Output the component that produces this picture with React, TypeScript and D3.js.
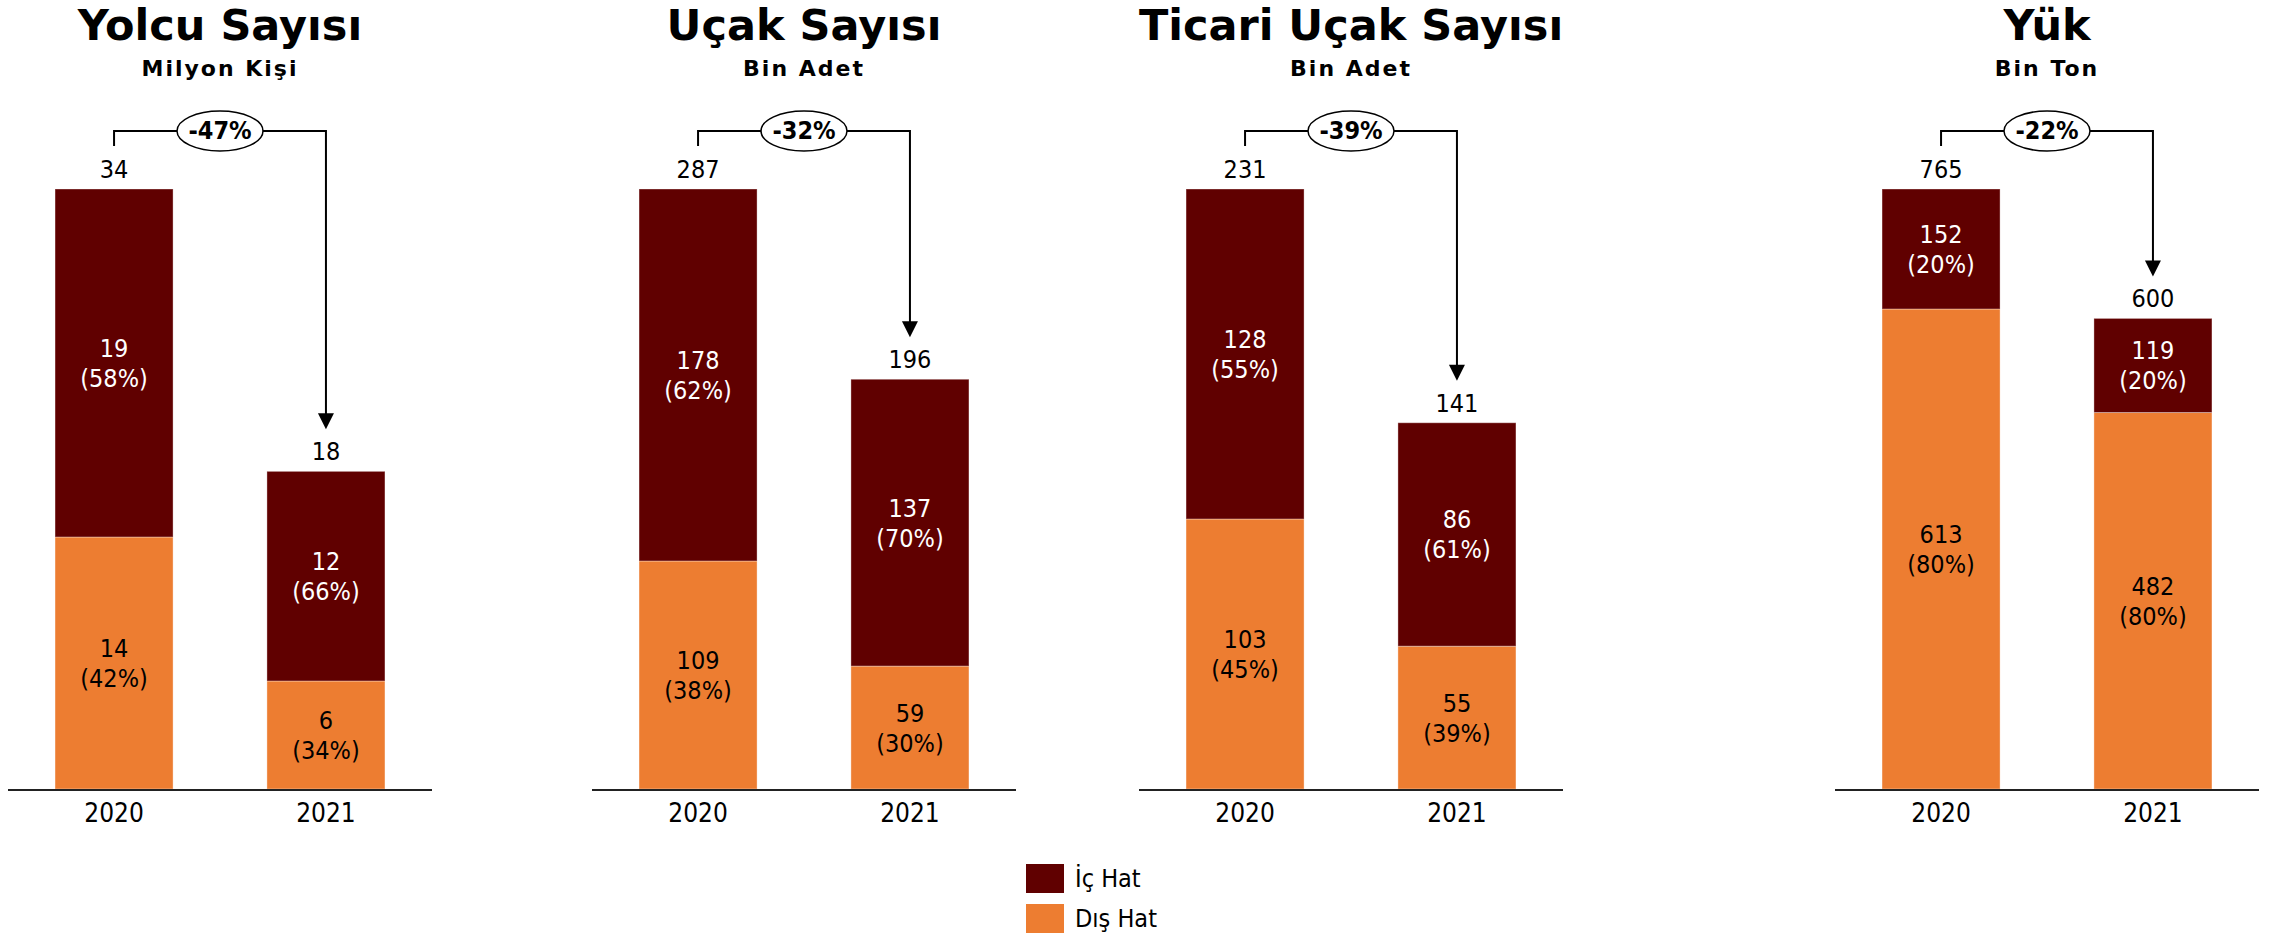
import React from "react";
import * as d3 from "d3";

// ---- data ----
const titles = ["Yolcu Sayısı", "Uçak Sayısı", "Ticari Uçak Sayısı", "Yük"];
const units = ["Milyon Kişi", "Bin Adet", "Bin Adet", "Bin Ton"];
const years = ["2020", "2021"];
const total2020 = [34, 287, 231, 765];
const total2021 = [18, 196, 141, 600];
const ic2020 = [19, 178, 128, 152];
const ic2020Pct = [58, 62, 55, 20];
const dis2020 = [14, 109, 103, 613];
const dis2020Pct = [42, 38, 45, 80];
const ic2021 = [12, 137, 86, 119];
const ic2021Pct = [66, 70, 61, 20];
const dis2021 = [6, 59, 55, 482];
const dis2021Pct = [34, 30, 39, 80];
const changePct = [-47, -32, -39, -22];
const legendLabels = ["İç Hat", "Dış Hat"];

// ---- style / layout ----
const W = 2270;
const H = 933;
const IC_COLOR = "#600000";
const DIS_COLOR = "#ED7D31";
const panelX = [8, 592, 1139, 1835];
const panelW = 424;
const axisY = 789;
const topY = 189;
const FONT = "'DejaVu Sans Condensed', 'DejaVu Sans', sans-serif";
const FONT_TITLE = "'DejaVu Sans', sans-serif";

type Seg = { value: number; pct: number; color: string; textColor: string };

function Panel({ i }: { i: number }) {
  const x = d3
    .scaleBand<string>()
    .domain(years)
    .range([panelX[i], panelX[i] + panelW])
    .paddingInner(0.443)
    .paddingOuter(0.222);
  const y = d3.scaleLinear().domain([0, total2020[i]]).range([axisY, topY]);
  const totals = [total2020[i], total2021[i]];
  const segs: Seg[][] = [
    [
      { value: dis2020[i], pct: dis2020Pct[i], color: DIS_COLOR, textColor: "#000" },
      { value: ic2020[i], pct: ic2020Pct[i], color: IC_COLOR, textColor: "#fff" },
    ],
    [
      { value: dis2021[i], pct: dis2021Pct[i], color: DIS_COLOR, textColor: "#000" },
      { value: ic2021[i], pct: ic2021Pct[i], color: IC_COLOR, textColor: "#fff" },
    ],
  ];
  const bw = x.bandwidth();
  const cx0 = (x(years[0]) as number) + bw / 2;
  const cx1 = (x(years[1]) as number) + bw / 2;
  const mid = (cx0 + cx1) / 2;
  const top0 = y(totals[0]);
  const top1 = y(totals[1]);
  const bracketY = top0 - 58;
  const tip = top1 - 42;

  return (
    <g>
      <text
        x={mid}
        y={40}
        textAnchor="middle"
        fontFamily={FONT_TITLE}
        fontWeight="bold"
        fontSize={43}
        fill="#000"
      >
        {titles[i]}
      </text>
      <text
        x={mid}
        y={76}
        textAnchor="middle"
        fontFamily={FONT_TITLE}
        fontWeight="bold"
        fontSize={22}
        letterSpacing={2}
        fill="#000"
      >
        {units[i]}
      </text>

      {years.map((yr, j) => {
        let acc = 0;
        const bx = x(yr) as number;
        return (
          <g key={yr}>
            {segs[j].map((s, k) => {
              const v0 = acc;
              const v1 = k === segs[j].length - 1 ? totals[j] : acc + (totals[j] * s.pct) / 100;
              acc = v1;
              const yTop = y(v1);
              const yBot = y(v0);
              const cy = (yTop + yBot) / 2;
              return (
                <g key={k}>
                  <rect
                    x={bx}
                    y={yTop}
                    width={bw}
                    height={yBot - yTop}
                    fill={s.color}
                    stroke="rgba(255,255,255,0.35)"
                    strokeWidth={1}
                  />
                  <text
                    x={bx + bw / 2}
                    y={cy - 15 + 9}
                    textAnchor="middle"
                    fontFamily={FONT}
                    fontSize={25}
                    fill={s.textColor}
                  >
                    {s.value}
                  </text>
                  <text
                    x={bx + bw / 2}
                    y={cy + 15 + 9}
                    textAnchor="middle"
                    fontFamily={FONT}
                    fontSize={25}
                    fill={s.textColor}
                  >
                    {`(${s.pct}%)`}
                  </text>
                </g>
              );
            })}
            <text
              x={bx + bw / 2}
              y={y(totals[j]) - 20 + 9}
              textAnchor="middle"
              fontFamily={FONT}
              fontSize={25}
              fill="#000"
            >
              {totals[j]}
            </text>
            <text
              x={bx + bw / 2}
              y={axisY + 23 + 10}
              textAnchor="middle"
              fontFamily={FONT}
              fontSize={26}
              fill="#000"
            >
              {yr}
            </text>
          </g>
        );
      })}

      <line
        x1={panelX[i]}
        x2={panelX[i] + panelW}
        y1={axisY + 1}
        y2={axisY + 1}
        stroke="#222"
        strokeWidth={2}
      />

      {/* change bracket */}
      <path
        d={`M${cx0},${bracketY + 15} V${bracketY} H${cx1} V${tip - 14}`}
        fill="none"
        stroke="#000"
        strokeWidth={2}
      />
      <path d={`M${cx1 - 8},${tip - 16} L${cx1 + 8},${tip - 16} L${cx1},${tip} Z`} fill="#000" />
      <ellipse cx={mid} cy={bracketY} rx={43} ry={20} fill="#fff" stroke="#000" strokeWidth={1.5} />
      <text
        x={mid}
        y={bracketY + 8}
        textAnchor="middle"
        fontFamily={FONT}
        fontWeight="bold"
        fontSize={25}
        fill="#000"
      >
        {`${changePct[i]}%`}
      </text>
    </g>
  );
}

export default function App() {
  const legendColors = [IC_COLOR, DIS_COLOR];
  return (
    <svg
      width={W}
      height={H}
      style={{ position: "absolute", left: 0, top: 0, display: "block", background: "#fff" }}
    >
      <rect x={0} y={0} width={W} height={H} fill="#fff" />
      {titles.map((_, i) => (
        <Panel key={i} i={i} />
      ))}
      {legendLabels.map((l, k) => (
        <g key={l}>
          <rect x={1026} y={864 + k * 40} width={38} height={29} fill={legendColors[k]} />
          <text x={1075} y={887 + k * 40} fontFamily={FONT} fontSize={25} fill="#000">
            {l}
          </text>
        </g>
      ))}
    </svg>
  );
}
